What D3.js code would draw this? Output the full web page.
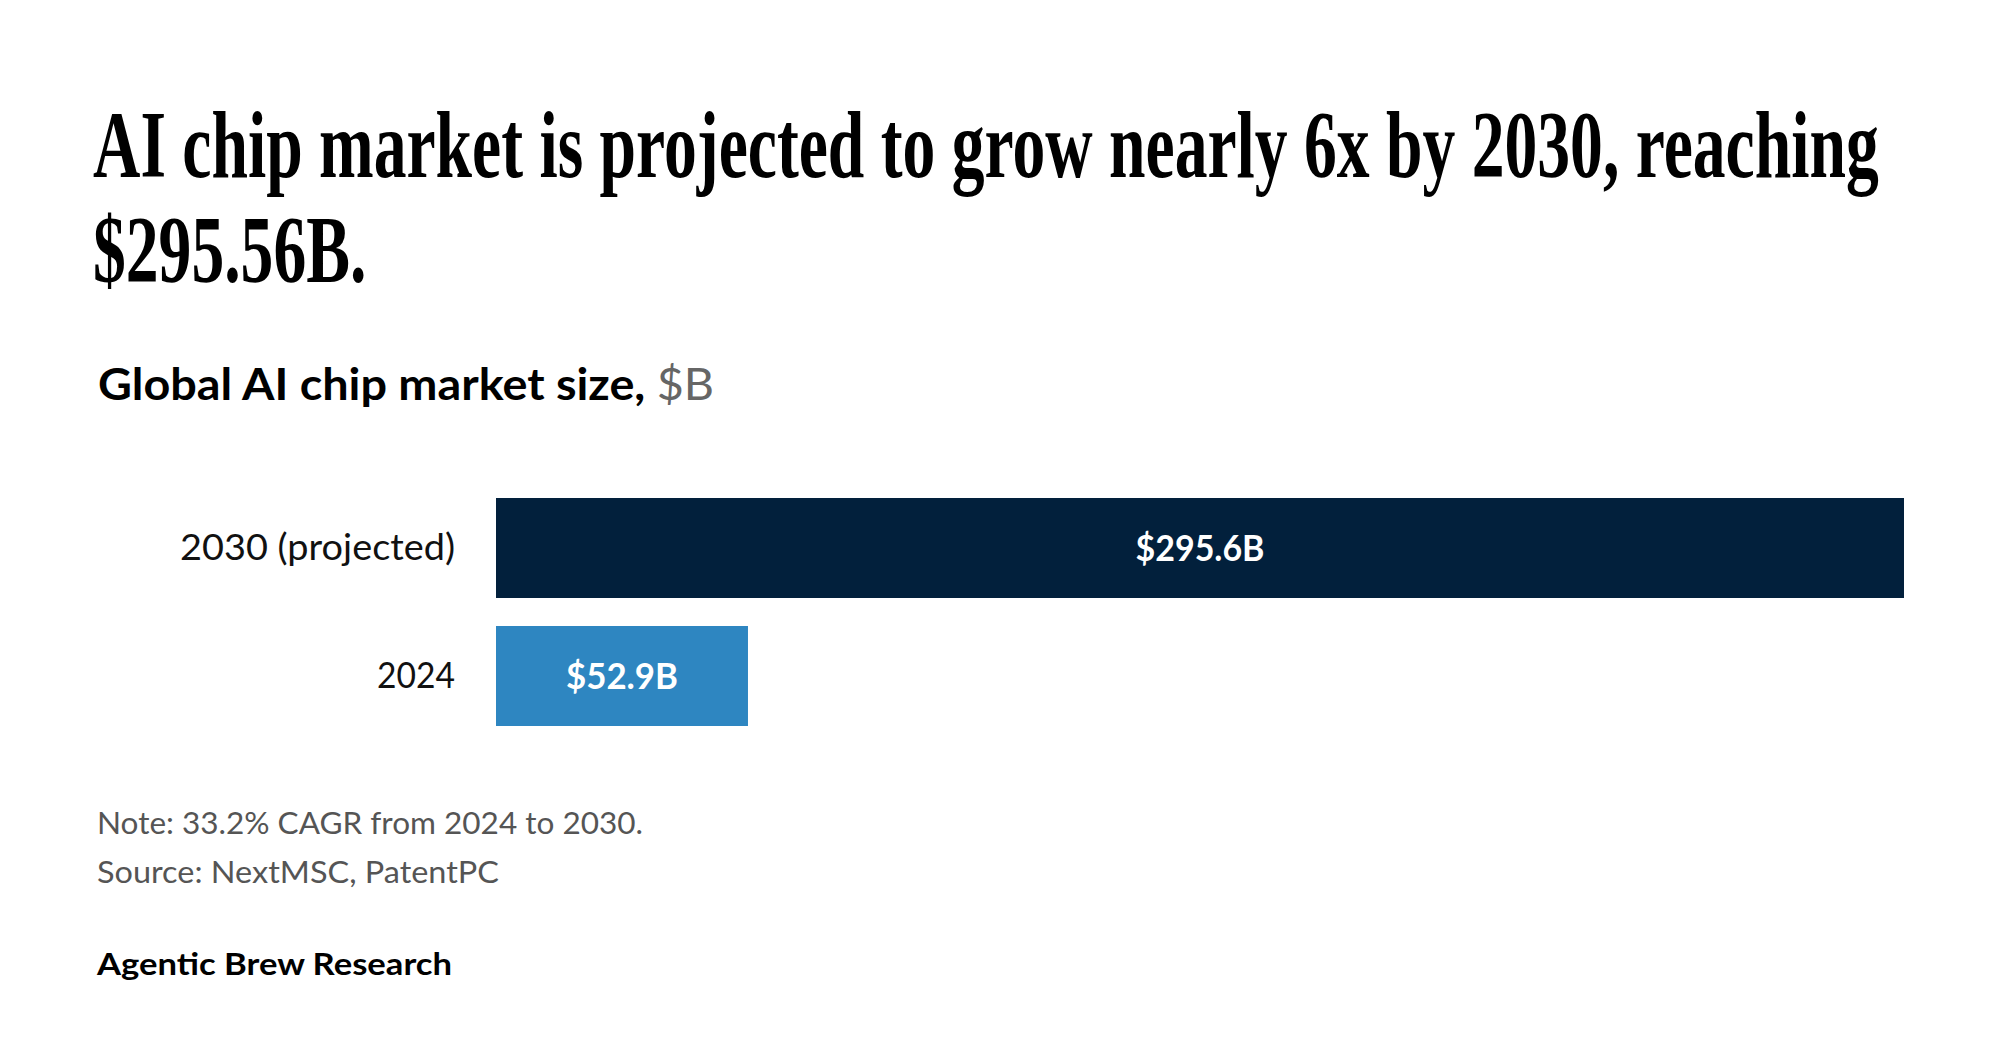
<!DOCTYPE html>
<html>
<head>
<meta charset="utf-8">
<script src="https://cdn.jsdelivr.net/npm/d3@7"></script>
<style>
  body { margin: 0; background: #fff; }
</style>
</head>
<body>
<script>
// chart values
var categories = ["2030 (projected)", "2024"];
var values = [295.6, 52.9];
var valueLabels = ["$295.6B", "$52.9B"];
var barColors = ["#02203c", "#2e86c1"];

var titleLines = ["AI chip market is projected to grow nearly 6x by 2030, reaching", "$295.56B."];
var subtitle = "Global AI chip market size, ";
var subtitleUnit = "$B";
var notes = ["Note: 33.2% CAGR from 2024 to 2030.", "Source: NextMSC, PatentPC"];
var credit = "Agentic Brew Research";

var W = 2000, H = 1054;
var sans = "Lato, 'Noto Sans', sans-serif";

// widths the texts take in the reference, so the fallback fonts line up
var catWidths = [275, 78];
var valWidths = [129, 112];
var noteWidths = [546, 402];
var creditWidth = 355;

var svg = d3.select("body").append("svg")
    .attr("width", W)
    .attr("height", H);

// title (condensed serif: squeeze to the reference width)
var titleG = svg.append("g");
var t1 = titleG.append("text")
    .attr("x", 0).attr("y", 177)
    .style("font-family", "'Liberation Serif', serif")
    .style("font-weight", "bold")
    .style("font-size", "95px")
    .attr("fill", "#000")
    .text(titleLines[0]);
titleG.append("text")
    .attr("x", 0).attr("y", 282)
    .style("font-family", "'Liberation Serif', serif")
    .style("font-weight", "bold")
    .style("font-size", "95px")
    .attr("fill", "#000")
    .text(titleLines[1]);
var sx = 1786 / t1.node().getComputedTextLength();
titleG.attr("transform", "translate(93,0) scale(" + sx + ",1)");

// subtitle
var sub = svg.append("text")
    .attr("x", 98).attr("y", 400)
    .style("font-family", sans)
    .style("font-size", "44px")
    .attr("textLength", 616)
    .attr("lengthAdjust", "spacingAndGlyphs");
sub.append("tspan").style("font-weight", "bold").attr("fill", "#000").text(subtitle);
sub.append("tspan").attr("fill", "#666").text(subtitleUnit);

// scales
var x = d3.scaleLinear().domain([0, d3.max(values)]).range([496, 1904]);
var y = d3.scaleBand().domain(categories).range([498, 726]).paddingInner(0.21875).paddingOuter(0);

svg.selectAll("rect.bar")
    .data(values)
    .enter()
    .append("rect")
    .attr("class", "bar")
    .attr("x", x(0))
    .attr("y", function(d, i) { return y(categories[i]); })
    .attr("width", function(d) { return x(d) - x(0); })
    .attr("height", y.bandwidth())
    .attr("fill", function(d, i) { return barColors[i]; });

svg.selectAll("text.val")
    .data(values)
    .enter()
    .append("text")
    .attr("class", "val")
    .attr("x", function(d) { return (x(0) + x(d)) / 2; })
    .attr("y", function(d, i) { return y(categories[i]) + y.bandwidth() / 2; })
    .attr("dy", "0.35em")
    .attr("text-anchor", "middle")
    .style("font-family", sans)
    .style("font-weight", "bold")
    .style("font-size", "36px")
    .attr("fill", "#fff")
    .attr("textLength", function(d, i) { return valWidths[i]; })
    .attr("lengthAdjust", "spacingAndGlyphs")
    .text(function(d, i) { return valueLabels[i]; });

// category axis
var yAxis = d3.axisLeft(y).tickSize(0).tickPadding(41);
var yAxisGroup = svg.append("g").attr("transform", "translate(" + x(0) + ",0)").call(yAxis);
yAxisGroup.select(".domain").remove();
yAxisGroup.selectAll("text")
    .style("font-family", sans)
    .style("font-size", "36px")
    .attr("fill", "#111")
    .attr("textLength", function(d, i) { return catWidths[i]; })
    .attr("lengthAdjust", "spacingAndGlyphs");

// notes and credit
svg.selectAll("text.note")
    .data(notes)
    .enter()
    .append("text")
    .attr("class", "note")
    .attr("x", 97)
    .attr("y", function(d, i) { return 834 + i * 49; })
    .style("font-family", sans)
    .style("font-size", "30px")
    .attr("fill", "#555")
    .attr("textLength", function(d, i) { return noteWidths[i]; })
    .attr("lengthAdjust", "spacingAndGlyphs")
    .text(function(d) { return d; });

svg.append("text")
    .attr("x", 97).attr("y", 975)
    .style("font-family", sans)
    .style("font-weight", "bold")
    .style("font-size", "30px")
    .attr("fill", "#000")
    .attr("textLength", creditWidth)
    .attr("lengthAdjust", "spacingAndGlyphs")
    .text(credit);
</script>
</body>
</html>
